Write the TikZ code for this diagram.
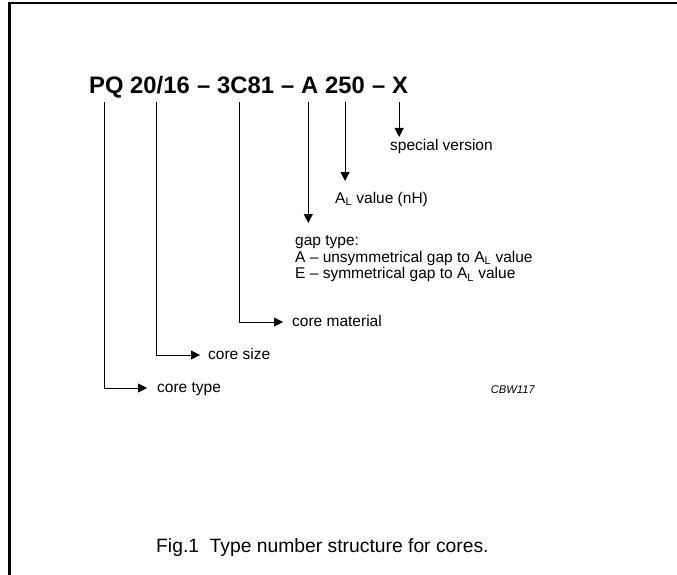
\documentclass[tikz,border=0pt]{standalone}
\usepackage{fontspec}
\setmainfont{Liberation Sans}
\usetikzlibrary{arrows.meta}
\begin{document}
\begin{tikzpicture}[x=1pt,y=-1pt,
  head/.style={inner sep=0pt,anchor=base west,font=\fontsize{23.8}{26}\selectfont\bfseries},
  lbl/.style={inner sep=0pt,anchor=base west,font=\fontsize{15.5}{16.5}\selectfont},
  conn/.style={line width=0.9pt},
  arr/.style={line width=0.9pt,-{Triangle[length=9pt,width=9pt]}}]
\useasboundingbox (0,0) rectangle (677,575);
\draw[line width=2.5pt] (9.5,575) |- (677,3);
% heading
\node[head] (pq) at (89,94) {PQ};
\node[head] (sz) at (130,94) {20/16};
\node[head] (d1) at (197,94) {--};
\node[head] (mat) at (217,94) {3C81};
\node[head] (d2) at (281,94) {--};
\node[head] (gp) at (301,94) {A};
\node[head] (al) at (325,94) {250};
\node[head] (d3) at (372,94) {--};
\node[head] (xv) at (392,94) {X};
% labels
\node[lbl] (sv) at (390,150) {special version};
\node[lbl] (alv) at (335,203) {A\textsubscript{L} value (nH)};
\node[lbl,align=left,anchor=north west] (gt) at (295,235.5) {gap type:\\A -- unsymmetrical gap to A\textsubscript{L} value\\E -- symmetrical gap to A\textsubscript{L} value};
\node[lbl] (cm) at (292,326.5) {core material};
\node[lbl] (cs) at (208,359.5) {core size};
\node[lbl] (ct) at (157,392.5) {core type};
\node[inner sep=0pt,anchor=base east,font=\fontsize{11.2}{13}\selectfont\itshape] (cbw) at (535,393) {CBW117};
\node[inner sep=0pt,anchor=base west,font=\fontsize{19.3}{22}\selectfont] (cap) at (156,552) {Fig.1\hspace{0.55em}Type number structure for cores.};
% connectors
\coordinate (pqs) at ([xshift=-1.5pt,yshift=-8pt]pq.base);
\coordinate (szs) at ([xshift=-4pt,yshift=-8pt]sz.base);
\coordinate (mats) at ([xshift=-6pt,yshift=-8pt]mat.base);
\coordinate (gps) at ([xshift=-1.5pt,yshift=-8pt]gp.base);
\coordinate (als) at ([yshift=-8pt]al.base);
\coordinate (xs) at ([xshift=-1pt,yshift=-8pt]xv.base);
\draw[arr] (xs) -- (xs |- 0,137);
\draw[arr] (als) -- (als |- 0,181);
\draw[arr] (gps) -- (gps |- 0,223);
\draw[arr] (mats) |- ([xshift=-9pt,yshift=4.5pt]cm.base west);
\draw[arr] (szs) |- ([xshift=-8pt,yshift=4.5pt]cs.base west);
\draw[arr] (pqs) |- ([xshift=-10pt,yshift=4.5pt]ct.base west);
\end{tikzpicture}
\end{document}
